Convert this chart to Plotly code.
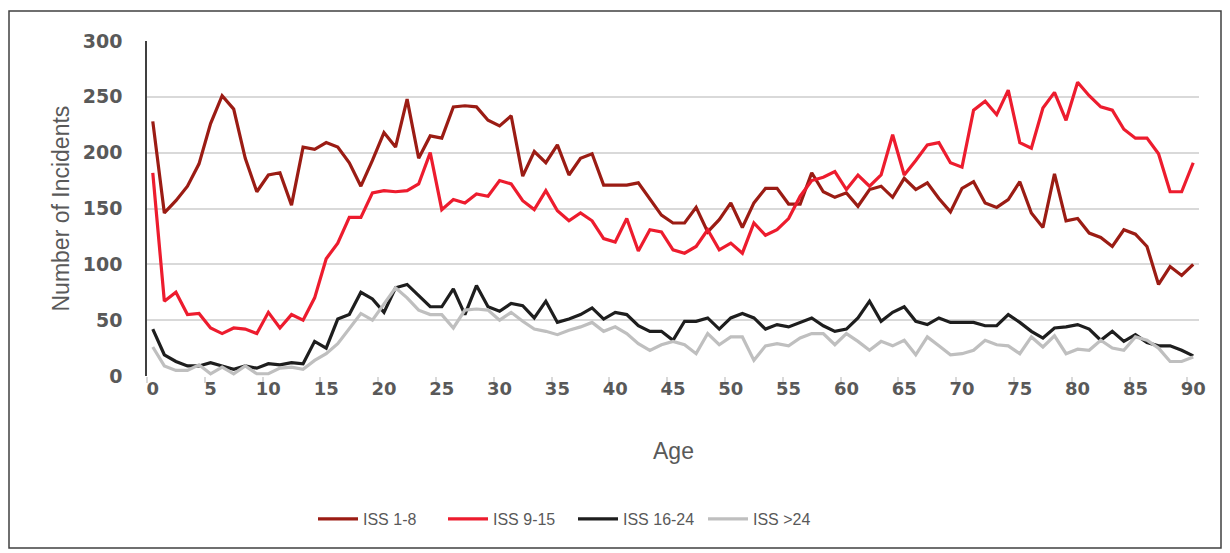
import plotly.graph_objects as go

# ages 0..90
ages = list(range(0, 91))

iss_1_8 = [228, 146, 157, 170, 190, 226, 251, 239, 195, 165,
           180, 182, 153, 205, 203, 209, 205, 191, 170, 193,
           218, 205, 248, 195, 215, 213, 241, 242, 241, 229,
           224, 233, 179, 201, 191, 207, 180, 195, 199, 171,
           171, 171, 173, 158, 144, 137, 137, 151, 129, 140,
           155, 133, 155, 168, 168, 154, 154, 182, 165, 160,
           164, 152, 167, 170, 160, 177, 167, 173, 159, 147,
           168, 174, 155, 151, 158, 174, 146, 133, 181, 139,
           141, 128, 124, 116, 131, 127, 116, 82, 98, 90,
           100]

iss_9_15 = [182, 67, 75, 55, 56, 43, 38, 43, 42, 38,
            57, 43, 55, 50, 70, 105, 119, 142, 142, 164,
            166, 165, 166, 172, 200, 149, 158, 155, 163, 161,
            175, 172, 157, 149, 166, 148, 139, 146, 139, 123,
            120, 141, 112, 131, 129, 113, 110, 116, 131, 113,
            119, 110, 137, 126, 131, 141, 161, 175, 178, 183,
            167, 180, 170, 180, 216, 180, 193, 207, 209, 191,
            187, 238, 246, 234, 256, 209, 204, 240, 254, 229,
            263, 251, 241, 238, 221, 213, 213, 199, 165, 165,
            191]

iss_16_24 = [42, 19, 13, 9, 9, 12, 9, 6, 9, 7,
             11, 10, 12, 11, 31, 25, 51, 55, 75, 69,
             57, 79, 82, 72, 62, 62, 78, 55, 81, 62,
             58, 65, 63, 52, 67, 48, 51, 55, 61, 51,
             57, 55, 45, 40, 40, 32, 49, 49, 52, 42,
             52, 56, 52, 42, 46, 44, 48, 52, 45, 40,
             42, 52, 67, 49, 57, 62, 49, 46, 52, 48,
             48, 48, 45, 45, 55, 48, 40, 34, 43, 44,
             46, 42, 32, 40, 31, 37, 30, 27, 27, 23,
             18]

iss_over_24 = [26, 9, 5, 5, 10, 2, 8, 2, 9, 2,
               2, 7, 8, 6, 14, 20, 29, 43, 56, 50,
               65, 79, 70, 59, 55, 55, 43, 59, 60, 59,
               50, 57, 49, 42, 40, 37, 41, 44, 48, 40,
               44, 38, 29, 23, 28, 31, 28, 20, 38, 28,
               35, 35, 14, 27, 29, 27, 34, 38, 38, 28,
               38, 31, 23, 31, 27, 32, 19, 35, 27, 19,
               20, 23, 32, 28, 27, 20, 35, 26, 36, 20,
               24, 23, 32, 25, 23, 35, 32, 25, 13, 13,
               17]

series_names = ["ISS 1-8", "ISS 9-15", "ISS 16-24", "ISS >24"]
series_colors = ["#9b1c14", "#ed1c2e", "#1e1e1e", "#bfbfbf"]
x_ticks = list(range(0, 91, 5))
y_ticks = [0, 50, 100, 150, 200, 250, 300]

# page is 1230x553 but the html body has an 8px margin, so the figure is
# drawn 8px smaller and every page-pixel position is shifted by OFF
OFF = 8
W, H = 1230 - OFF, 553 - OFF
PL, PR, PT, PB = 147 - OFF, 1199 - OFF, 41 - OFF, 376 - OFF  # plot area
TXT = "#595959"
GRID = "#d9d9d9"


def px(x):
    # page pixel x -> paper
    return (x - OFF - PL) / (PR - PL)


def py(y):
    # page pixel y -> paper
    return (PB - (y - OFF)) / (PB - PT)


fig = go.Figure()
for name, vals, col in zip(series_names,
                           [iss_1_8, iss_9_15, iss_16_24, iss_over_24],
                           series_colors):
    fig.add_trace(go.Scatter(x=ages, y=vals, name=name, mode="lines",
                             line=dict(color=col, width=3.2)))

fig.update_layout(
    width=W, height=H,
    paper_bgcolor="white", plot_bgcolor="white",
    margin=dict(l=PL, r=W - PR, t=PT, b=H - PB, autoexpand=False),
    font=dict(family="Liberation Sans, Arial, sans-serif", color=TXT),
    showlegend=True,
    legend=dict(orientation="h", x=px(313), y=py(519), xanchor="left", yanchor="middle",
                font=dict(size=16, color=TXT), itemwidth=40, tracegroupgap=0,
                entrywidth=75, entrywidthmode="pixels",
                bgcolor="rgba(0,0,0,0)"),
    xaxis=dict(range=[-0.5, 90.5], tickvals=x_ticks, ticks="", showgrid=False,
               zeroline=False, showline=False, automargin=False,
               tickfont=dict(family="DejaVu Sans", size=18, color=TXT, weight="bold"),
               ticklabelstandoff=0,
               minor=dict(tickmode="array", tickvals=[v - 0.5 for v in x_ticks],
                          ticks="outside", ticklen=6, tickcolor=GRID, tickwidth=1.5)),
    yaxis=dict(range=[0, 300], tickvals=y_ticks, ticks="", showgrid=True,
               gridcolor=GRID, gridwidth=1.5, zeroline=False,
               showline=True, linecolor="#404040", linewidth=1.5, automargin=False,
               tickfont=dict(family="DejaVu Sans", size=19, color=TXT, weight="bold"),
               ticklabelstandoff=19),
    annotations=[
        dict(text="Age", xref="paper", yref="paper", x=0.5, y=py(451),
             showarrow=False, xanchor="center", yanchor="middle",
             font=dict(size=23, color=TXT)),
        dict(text="Number of Incidents", xref="paper", yref="paper", x=px(60), y=0.5,
             showarrow=False, textangle=-90, xanchor="center", yanchor="middle",
             font=dict(size=23, color=TXT)),
    ],
    shapes=[
        dict(type="rect", xref="paper", yref="paper",
             x0=px(9), x1=px(1221), y0=py(548), y1=py(11),
             line=dict(color="#404040", width=1.5), layer="below"),
    ],
)

fig.write_html("out.html")
